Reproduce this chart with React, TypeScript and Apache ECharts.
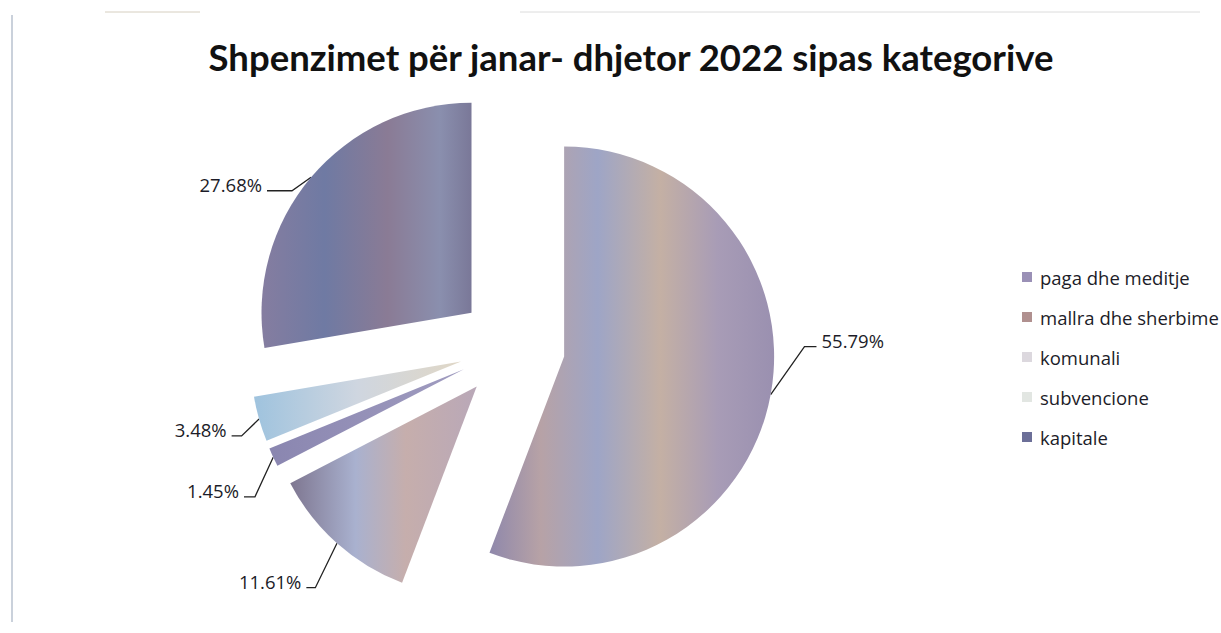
import React, { useEffect, useRef } from "react";
import * as echarts from "echarts";

const categories = ["paga dhe meditje", "mallra dhe sherbime", "komunali", "subvencione", "kapitale"];
const shares = [55.79, 11.61, 1.45, 3.48, 27.68];
const titleText = "Shpenzimet për janar- dhjetor 2022 sipas kategorive";

const legendColors = ["#9a90b6", "#b0908f", "#dcd8de", "#e2e6e2", "#6c6f98"];
const gradientStops: [number, string][][] = [
  [[0, "#8f88ab"], [0.18, "#b7a2a6"], [0.38, "#9ea5c6"], [0.6, "#c4b0a4"], [0.8, "#a89cb6"], [1, "#9a90b0"]],
  [[0, "#7e7690"], [0.35, "#a9b1cf"], [0.62, "#c6aeac"], [1, "#b9a8b8"]],
  [[0, "#8a86b0"], [1, "#a09cc0"]],
  [[0, "#9fc3de"], [0.5, "#cfd6e0"], [1, "#e0d7c6"]],
  [[0, "#857da0"], [0.3, "#6f7aa3"], [0.6, "#8a7b95"], [0.85, "#8a8fae"], [1, "#7a7898"]],
];
// leader line: radial length, horizontal length
const lineLengths = [
  [12, 14],
  [34, 14],
  [30, 14],
  [14, 14],
  [4, 40],
];
// label nudges (dx, dy) and horizontal elbow length of the redrawn leader
const labelShift = [
  [20, -56],
  [6, 13],
  [12, 21],
  [0, 7],
  [-1, 10],
];
const elbowLength = [12, 9, 11, 10, 25];
const lineDrop = 6;

export default function App() {
  const ref = useRef<HTMLDivElement>(null);
  useEffect(() => {
    if (!ref.current) return;
    const chart = echarts.init(ref.current, undefined, { renderer: "svg" });
    const data = categories.map((name, i) => ({
      name,
      value: shares[i],
      selected: true,
      itemStyle: {
        color: new echarts.graphic.LinearGradient(
          0, 0, 1, 0,
          gradientStops[i].map(([offset, color]) => ({ offset, color }))
        ),
      },
      labelLine: { length: lineLengths[i][0], length2: lineLengths[i][1] },
    }));
    chart.setOption({
      animation: false,
      backgroundColor: "#ffffff",
      title: {
        text: titleText,
        left: 626,
        top: 33,
        textAlign: "center",
        textStyle: { fontFamily: "Lato", fontSize: 36.5, fontWeight: "bold", color: "#111111" },
      },
      legend: {
        orient: "vertical",
        left: 1022,
        top: 264,
        itemGap: 14,
        itemWidth: 10,
        itemHeight: 10,
        itemStyle: { borderWidth: 0 },
        icon: "rect",
        padding: 0,
        selectedMode: false,
        textStyle: { fontFamily: "Open Sans", fontSize: 18.5, color: "#1c1c28", lineHeight: 26, padding: [0, 0, 0, 3] },
        data: categories.map((name, i) => ({ name, itemStyle: { color: legendColors[i] } })),
      },
      graphic: [
        { type: "line", shape: { x1: 12, y1: 15, x2: 12, y2: 622 }, style: { stroke: "#b9c2cf", lineWidth: 1.5 } },
        { type: "line", shape: { x1: 105, y1: 12, x2: 200, y2: 12 }, style: { stroke: "#d6cfc0", lineWidth: 1 } },
        { type: "line", shape: { x1: 520, y1: 12, x2: 1200, y2: 12 }, style: { stroke: "#dcdcdc", lineWidth: 1 } },
      ],
      series: [
        {
          type: "pie",
          center: [512, 347],
          radius: 210,
          startAngle: 90,
          clockwise: true,
          selectedMode: "multiple",
          selectedOffset: 53,
          avoidLabelOverlap: false,
          emphasis: { scale: false },
          label: {
            show: true,
            position: "outside",
            fontFamily: "Open Sans",
            fontSize: 18.5,
            color: "#1c1c28",
            formatter: (p: any) => p.value.toFixed(2) + "%",
          },
          labelLine: { show: true, lineStyle: { color: "#222222", width: 1.3 } },
          labelLayout: (p: any) => {
            const [dx, dy] = labelShift[p.dataIndex];
            const out: any = { dx, dy };
            const pts = p.labelLinePoints;
            if (pts && pts.length >= 3) {
              const p0 = [pts[0][0], pts[0][1]];
              const last = pts[pts.length - 1];
              const end = [last[0] + dx, last[1] + dy + lineDrop];
              const side = Math.sign(end[0] - p0[0]) || 1;
              const elbow = [end[0] - side * elbowLength[p.dataIndex], end[1]];
              out.labelLinePoints = [p0, elbow, end];
            }
            return out;
          },
          data,
        },
      ],
    });
    return () => chart.dispose();
  }, []);
  return <div ref={ref} style={{ position: "absolute", left: 0, top: 0, width: 1221, height: 633 }} />;
}
